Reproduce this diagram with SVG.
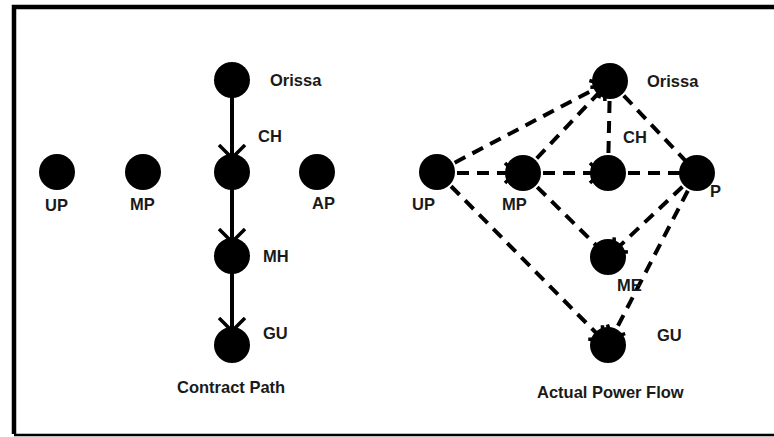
<svg xmlns="http://www.w3.org/2000/svg" width="774" height="437" viewBox="0 0 774 437">
<style>
.lbl{font-family:"Liberation Sans",Arial,sans-serif;font-weight:bold;font-size:16.5px;fill:#1a1a1a}
.node{fill:#000}
.solid{stroke:#000;stroke-width:4;fill:none}
.dash{stroke:#000;stroke-width:4;fill:none;stroke-dasharray:12 8}
</style>
<defs>
<marker id="chev" markerUnits="userSpaceOnUse" viewBox="0 0 16 28" refX="14" refY="14" markerWidth="16" markerHeight="28" orient="auto">
<path d="M1,1 L14,14 L1,27" fill="none" stroke="#000" stroke-width="3.5" stroke-dasharray="none"/>
</marker>
<marker id="chevs" markerUnits="userSpaceOnUse" viewBox="0 0 14 24" refX="12" refY="12" markerWidth="14" markerHeight="24" orient="auto">
<path d="M2,2 L12,12 L2,22" fill="none" stroke="#000" stroke-width="3.5" stroke-dasharray="none"/>
</marker>
</defs>
<rect width="774" height="437" fill="#fff"/>
<path d="M14,434 L14,7 L780,7" fill="none" stroke="#000" stroke-width="4.5"/>
<path d="M14,435 L780,435" fill="none" stroke="#000" stroke-width="2.5"/>
<g id="connectors">
<line class="solid" x1="232" y1="80" x2="232" y2="158" marker-end="url(#chev)"/>
<line class="solid" x1="232" y1="172" x2="232" y2="242" marker-end="url(#chev)"/>
<line class="solid" x1="232" y1="256" x2="232" y2="331" marker-end="url(#chev)"/>
<line class="dash" x1="437" y1="172" x2="602.9" y2="84.7" marker-end="url(#chevs)"/>
<line class="dash" x1="523" y1="173" x2="604.5" y2="86.8" marker-end="url(#chevs)"/>
<line class="dash" x1="610" y1="81" x2="608" y2="173"/>
<line class="dash" x1="610" y1="81" x2="697" y2="173"/>
<line class="dash" x1="437" y1="173" x2="515" y2="173" marker-end="url(#chevs)"/>
<line class="dash" x1="523" y1="173" x2="600" y2="173" marker-end="url(#chevs)"/>
<line class="dash" x1="608" y1="173" x2="697" y2="173"/>
<line class="dash" x1="523" y1="173" x2="608" y2="257"/>
<line class="dash" x1="697" y1="173" x2="613.8" y2="251.5" marker-end="url(#chevs)"/>
<line class="dash" x1="437" y1="172" x2="602.4" y2="339.3" marker-end="url(#chevs)"/>
<line class="dash" x1="697" y1="173" x2="611.7" y2="337.9" marker-end="url(#chevs)"/>
</g>
<g id="L-Orissa"><circle class="node" cx="232" cy="80" r="18"/><text class="lbl" x="270" y="86">Orissa</text></g>
<g id="L-CH"><circle class="node" cx="232" cy="172" r="18"/><text class="lbl" x="258" y="142">CH</text></g>
<g id="L-UP"><circle class="node" cx="57" cy="172" r="18"/><text class="lbl" x="45" y="211">UP</text></g>
<g id="L-MP"><circle class="node" cx="143" cy="172" r="18"/><text class="lbl" x="130" y="210">MP</text></g>
<g id="L-AP"><circle class="node" cx="317" cy="172" r="18"/><text class="lbl" x="312" y="209">AP</text></g>
<g id="L-MH"><circle class="node" cx="232" cy="256" r="18"/><text class="lbl" x="263" y="262">MH</text></g>
<g id="L-GU"><circle class="node" cx="232" cy="345" r="18"/><text class="lbl" x="263" y="339">GU</text></g>
<g id="L-title"><text class="lbl" x="177" y="393">Contract Path</text></g>
<g id="R-Orissa"><circle class="node" cx="610" cy="81" r="18"/><text class="lbl" x="647" y="87">Orissa</text></g>
<g id="R-CH"><circle class="node" cx="608" cy="173" r="18"/><text class="lbl" x="623" y="143">CH</text></g>
<g id="R-UP"><circle class="node" cx="437" cy="172" r="18"/><text class="lbl" x="412" y="210">UP</text></g>
<g id="R-MP"><circle class="node" cx="523" cy="173" r="18"/><text class="lbl" x="502" y="210">MP</text></g>
<g id="R-P"><circle class="node" cx="697" cy="173" r="18"/><text class="lbl" x="710" y="197">P</text></g>
<g id="R-ME"><circle class="node" cx="608" cy="257" r="18"/><text class="lbl" x="617" y="291">ME</text></g>
<g id="R-GU"><circle class="node" cx="608" cy="345" r="18"/><text class="lbl" x="657" y="341">GU</text></g>
<g id="R-title"><text class="lbl" x="537" y="398">Actual Power Flow</text></g>
</svg>
